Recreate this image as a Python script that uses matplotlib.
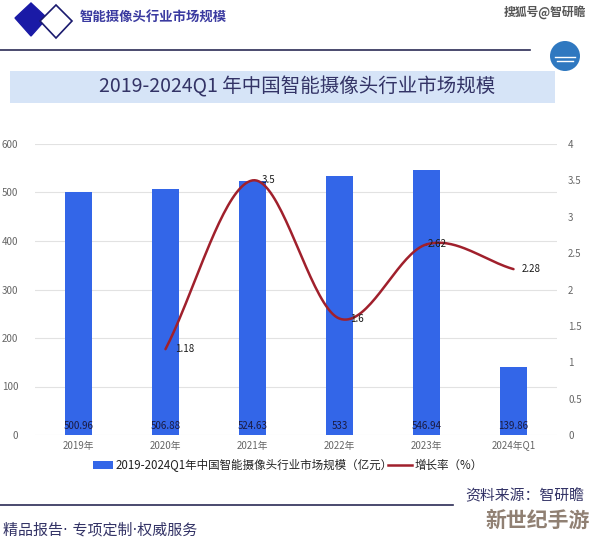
import numpy as np
import matplotlib
matplotlib.use("Agg")
import matplotlib.pyplot as plt
from matplotlib.patches import Polygon, Rectangle, Circle

plt.rcParams['font.family'] = ['Noto Sans CJK SC', 'DejaVu Sans']

categories = ["2019年", "2020年", "2021年", "2022年", "2023年", "2024年Q1"]
market_size = [500.96, 506.88, 524.63, 533, 546.94, 139.86]
growth_cats = ["2020年", "2021年", "2022年", "2023年", "2024年Q1"]
growth_rate = [1.18, 3.5, 1.6, 2.62, 2.28]
left_ticks = [0, 100, 200, 300, 400, 500, 600]
right_ticks = [0, 0.5, 1, 1.5, 2, 2.5, 3, 3.5, 4]
right_labels = ["0", "0.5", "1", "1.5", "2", "2.5", "3", "3.5", "4"]

W, H = 594, 538
fig = plt.figure(figsize=(W / 100, H / 100), dpi=100)

def fx(px):
    return px / W

def fy(py):
    return 1 - py / H

# ---- header ----
bg = fig.add_axes([0, 0, 1, 1])
bg.set_xlim(0, W)
bg.set_ylim(H, 0)
bg.axis('off')

bg.add_patch(Polygon([[15, 18], [31, 3], [47, 18], [31, 36]], closed=True,
                     facecolor='#1a1aa6', edgecolor='#1a1aa6'))
bg.add_patch(Polygon([[40, 21], [56, 5], [72, 21], [56, 38]], closed=True,
                     facecolor='white', edgecolor='#1a1a6e', lw=1.2))
bg.text(80, 18, "智能摄像头行业市场规模", fontsize=9.6, color='#3a3aa0',
        fontweight='bold', va='center', ha='left')
bg.text(586, 12, "搜狐号@智研瞻", fontsize=8.5, color='#555555',
        va='center', ha='right', fontweight='bold')
bg.plot([0, 530], [50, 50], color='#2b2b55', lw=1.2)
bg.add_patch(Circle((565, 56), 15, facecolor='#2f78c0', edgecolor='none'))
bg.plot([555, 575], [57, 57], color='white', lw=1)
bg.plot([557, 573], [61, 61], color='white', lw=1)

# ---- title banner ----
bg.add_patch(Rectangle((10, 71), 545, 32, facecolor='#d6e4f7', edgecolor='none'))
bg.text(297, 87, "2019-2024Q1 年中国智能摄像头行业市场规模", fontsize=14,
        color='#333366', va='center', ha='center')

# ---- chart ----
ax = fig.add_axes([fx(35), fy(435), fx(557) - fx(35), fy(144) - fy(435)])
x = np.arange(len(categories))
ax.bar(x, market_size, width=0.31, color='#3366e8', zorder=2)
ax.set_ylim(0, 600)
ax.set_xlim(-0.5, len(categories) - 0.5)
ax.set_yticks(left_ticks)
ax.set_xticks(x)
ax.set_xticklabels(categories)
ax.grid(axis='y', color='#e2e2e2', lw=0.8, zorder=0)
for s in ax.spines.values():
    s.set_visible(False)
ax.tick_params(axis='both', length=0, labelsize=7, colors='#666666')
ax.tick_params(axis='x', pad=4)
ax.tick_params(axis='y', pad=12)
for xi, v in zip(x, market_size):
    ax.text(xi, 18, f"{v:g}", ha='center', va='center', fontsize=7,
            color='#1a1a40', zorder=4)

ax2 = ax.twinx()
ax2.set_ylim(0, 4)
ax2.set_yticks(right_ticks)
ax2.set_yticklabels(right_labels)
for s in ax2.spines.values():
    s.set_visible(False)
ax2.tick_params(axis='y', length=0, labelsize=7, colors='#666666', pad=8)

gx = np.array([categories.index(c) for c in growth_cats], dtype=float)
gy = np.array(growth_rate, dtype=float)

# Catmull-Rom smoothing (rendering only)
def catmull(px, py, n=40):
    P = np.column_stack([px, py])
    P = np.vstack([2 * P[0] - P[1], P, 2 * P[-1] - P[-2]])
    out = []
    for i in range(1, len(P) - 2):
        p0, p1, p2, p3 = P[i - 1], P[i], P[i + 1], P[i + 2]
        t = np.linspace(0, 1, n)[:, None]
        seg = 0.5 * ((2 * p1) + (-p0 + p2) * t + (2 * p0 - 5 * p1 + 4 * p2 - p3) * t ** 2
                     + (-p0 + 3 * p1 - 3 * p2 + p3) * t ** 3)
        out.append(seg)
    out = np.vstack(out)
    return out[:, 0], out[:, 1]

sx, sy = catmull(gx, gy)
ax2.plot(sx, sy, color='#a0202c', lw=1.8, zorder=3, solid_capstyle='round')
offsets = [0.22, 0.18, 0.2, 0.12, 0.2]
for xi, v, dx in zip(gx, gy, offsets):
    ax2.text(xi + dx, v, f"{v:g}", ha='center', va='center', fontsize=7,
             color='#1a1a1a', zorder=4)

# ---- legend ----
bg.add_patch(Rectangle((93, 461), 20, 8, facecolor='#3366e8', edgecolor='none'))
bg.text(116, 465, "2019-2024Q1年中国智能摄像头行业市场规模（亿元）", fontsize=8.3,
        color='#222222', va='center', ha='left')
bg.plot([388, 412], [465, 465], color='#a0202c', lw=1.8)
bg.text(415, 465, "增长率（%）", fontsize=8.3, color='#222222', va='center', ha='left')

# ---- footer ----
bg.plot([0, 453], [505, 505], color='#2b2b55', lw=1.2)
bg.text(584, 496, "资料来源：智研瞻", fontsize=10.7, color='#333366', va='center', ha='right')
bg.text(3, 530, "精品报告· 专项定制·权威服务", fontsize=10.8, color='#333366', va='center', ha='left',
        family=['DejaVu Sans', 'Noto Sans CJK SC'])
bg.text(590, 520, "新世纪手游", fontsize=15, color='#7d6a5a', va='center', ha='right',
        fontweight='bold', alpha=0.85)

fig.savefig("out.png", dpi=100)
